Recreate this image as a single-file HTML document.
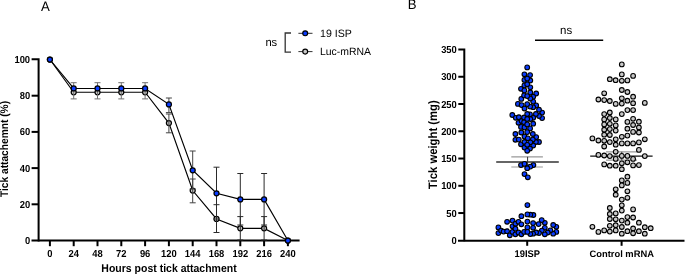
<!DOCTYPE html>
<html><head><meta charset="utf-8"><style>
html,body{margin:0;padding:0;background:#fff;}
svg{display:block;font-family:"Liberation Sans", sans-serif;}
svg{will-change:transform;}
text{text-rendering:geometricPrecision;}
</style></head><body>
<svg width="685" height="274" viewBox="0 0 685 274">
<text transform="translate(41,10.6) scale(1,1.04)" font-size="13.2">A</text>
<text transform="translate(407.7,9.15) scale(1,1.04)" font-size="13.2">B</text>
<g stroke="#000" stroke-width="2" fill="none">
<path d="M31.6,59.3 H38.6 V241.5" stroke-linejoin="miter"/>
<path d="M31.5,240.5 H299.6"/>
<path d="M31.6,204.3 H38.6"/>
<path d="M31.6,168.1 H38.6"/>
<path d="M31.6,131.9 H38.6"/>
<path d="M31.6,95.7 H38.6"/>
<path d="M49.9,240.5 V246.2"/>
<path d="M73.7,240.5 V246.2"/>
<path d="M97.5,240.5 V246.2"/>
<path d="M121.3,240.5 V246.2"/>
<path d="M145.1,240.5 V246.2"/>
<path d="M168.9,240.5 V246.2"/>
<path d="M192.7,240.5 V246.2"/>
<path d="M216.5,240.5 V246.2"/>
<path d="M240.3,240.5 V246.2"/>
<path d="M264.1,240.5 V246.2"/>
<path d="M287.9,240.5 V246.2"/>
</g>
<text transform="translate(30.1,244) scale(1,1.08)" font-size="9.4" font-weight="bold" text-anchor="end">0</text>
<text transform="translate(30.1,207.8) scale(1,1.08)" font-size="9.4" font-weight="bold" text-anchor="end">20</text>
<text transform="translate(30.1,171.6) scale(1,1.08)" font-size="9.4" font-weight="bold" text-anchor="end">40</text>
<text transform="translate(30.1,135.4) scale(1,1.08)" font-size="9.4" font-weight="bold" text-anchor="end">60</text>
<text transform="translate(30.1,99.2) scale(1,1.08)" font-size="9.4" font-weight="bold" text-anchor="end">80</text>
<text transform="translate(30.1,63) scale(1,1.08)" font-size="9.4" font-weight="bold" text-anchor="end">100</text>
<text transform="translate(49.9,257.3) scale(1,1.08)" font-size="9.4" font-weight="bold" text-anchor="middle">0</text>
<text transform="translate(73.7,257.3) scale(1,1.08)" font-size="9.4" font-weight="bold" text-anchor="middle">24</text>
<text transform="translate(97.5,257.3) scale(1,1.08)" font-size="9.4" font-weight="bold" text-anchor="middle">48</text>
<text transform="translate(121.3,257.3) scale(1,1.08)" font-size="9.4" font-weight="bold" text-anchor="middle">72</text>
<text transform="translate(145.1,257.3) scale(1,1.08)" font-size="9.4" font-weight="bold" text-anchor="middle">96</text>
<text transform="translate(168.9,257.3) scale(1,1.08)" font-size="9.4" font-weight="bold" text-anchor="middle">120</text>
<text transform="translate(192.7,257.3) scale(1,1.08)" font-size="9.4" font-weight="bold" text-anchor="middle">144</text>
<text transform="translate(216.5,257.3) scale(1,1.08)" font-size="9.4" font-weight="bold" text-anchor="middle">168</text>
<text transform="translate(240.3,257.3) scale(1,1.08)" font-size="9.4" font-weight="bold" text-anchor="middle">192</text>
<text transform="translate(264.1,257.3) scale(1,1.08)" font-size="9.4" font-weight="bold" text-anchor="middle">216</text>
<text transform="translate(287.9,257.3) scale(1,1.08)" font-size="9.4" font-weight="bold" text-anchor="middle">240</text>
<text transform="translate(169,271.9) scale(1,1.08)" font-size="10.5" font-weight="bold" text-anchor="middle">Hours post tick attachment</text>
<text transform="translate(8.3,149) rotate(-90) scale(1,1.08)" font-size="10.2" font-weight="bold" text-anchor="middle">Tick attachemnt (%)</text>
<polyline points="49.9,59.5 73.7,92.26 97.5,92.26 121.3,92.26 145.1,92.26 168.9,123.03 192.7,190.54 216.5,218.96 240.3,228.37 264.1,228.37 287.9,240.5" fill="none" stroke="#000" stroke-width="1.15"/>
<circle cx="49.9" cy="59.5" r="2.5" fill="#c8c8c8" stroke="#000" stroke-width="1.25"/>
<circle cx="73.7" cy="92.26" r="2.5" fill="#c8c8c8" stroke="#000" stroke-width="1.25"/>
<circle cx="97.5" cy="92.26" r="2.5" fill="#c8c8c8" stroke="#000" stroke-width="1.25"/>
<circle cx="121.3" cy="92.26" r="2.5" fill="#c8c8c8" stroke="#000" stroke-width="1.25"/>
<circle cx="145.1" cy="92.26" r="2.5" fill="#c8c8c8" stroke="#000" stroke-width="1.25"/>
<circle cx="168.9" cy="123.03" r="2.5" fill="#c8c8c8" stroke="#000" stroke-width="1.25"/>
<circle cx="192.7" cy="190.54" r="2.5" fill="#c8c8c8" stroke="#000" stroke-width="1.25"/>
<circle cx="216.5" cy="218.96" r="2.5" fill="#c8c8c8" stroke="#000" stroke-width="1.25"/>
<circle cx="240.3" cy="228.37" r="2.5" fill="#c8c8c8" stroke="#000" stroke-width="1.25"/>
<circle cx="264.1" cy="228.37" r="2.5" fill="#c8c8c8" stroke="#000" stroke-width="1.25"/>
<circle cx="287.9" cy="240.5" r="2.5" fill="#c8c8c8" stroke="#000" stroke-width="1.25"/>
<g stroke="#2a2a2a" stroke-width="1" fill="none">
<path stroke="#707070" d="M73.7,82.7 V98.9 M70.7,82.7 H76.7 M70.7,98.9 H76.7"/>
<path stroke="#707070" d="M97.5,82.7 V98.9 M94.5,82.7 H100.5 M94.5,98.9 H100.5"/>
<path stroke="#707070" d="M121.3,82.7 V98.9 M118.3,82.7 H124.3 M118.3,98.9 H124.3"/>
<path stroke="#707070" d="M145.1,82.7 V98.9 M142.1,82.7 H148.1 M142.1,98.9 H148.1"/>
<path stroke="#444" d="M168.9,98 V112.6 M165.9,98 H171.9 M165.9,112.6 H171.9"/>
<path stroke="#444" d="M168.9,114 V132.8 M165.9,114 H171.9 M165.9,132.8 H171.9"/>
<path stroke="#444" d="M192.7,151 V189 M189.7,151 H195.7 M189.7,189 H195.7"/>
<path stroke="#444" d="M192.7,179 V202.8 M189.7,179 H195.7 M189.7,202.8 H195.7"/>
<path stroke="#2a2a2a" d="M216.5,167.2 V219 M213.5,167.2 H219.5 M213.5,219 H219.5"/>
<path stroke="#2a2a2a" d="M216.5,204.7 V232.5 M213.5,204.7 H219.5 M213.5,232.5 H219.5"/>
<path stroke="#2a2a2a" d="M240.3,173.5 V225 M237.3,173.5 H243.3 M237.3,225 H243.3"/>
<path stroke="#2a2a2a" d="M240.3,216.6 V240 M237.3,216.6 H243.3 M237.3,240 H243.3"/>
<path stroke="#2a2a2a" d="M264.1,173.5 V225 M261.1,173.5 H267.1 M261.1,225 H267.1"/>
<path stroke="#2a2a2a" d="M264.1,216.6 V240 M261.1,216.6 H267.1 M261.1,240 H267.1"/>
</g>
<polyline points="49.9,59.5 73.7,88.46 97.5,88.46 121.3,88.46 145.1,88.46 168.9,104.39 192.7,170.27 216.5,193.26 240.3,199.41 264.1,199.41 287.9,240.5" fill="none" stroke="#000" stroke-width="1.15"/>
<circle cx="49.9" cy="59.5" r="2.5" fill="#0a3cff" stroke="#000" stroke-width="1.25"/>
<circle cx="73.7" cy="88.46" r="2.5" fill="#0a3cff" stroke="#000" stroke-width="1.25"/>
<circle cx="97.5" cy="88.46" r="2.5" fill="#0a3cff" stroke="#000" stroke-width="1.25"/>
<circle cx="121.3" cy="88.46" r="2.5" fill="#0a3cff" stroke="#000" stroke-width="1.25"/>
<circle cx="145.1" cy="88.46" r="2.5" fill="#0a3cff" stroke="#000" stroke-width="1.25"/>
<circle cx="168.9" cy="104.39" r="2.5" fill="#0a3cff" stroke="#000" stroke-width="1.25"/>
<circle cx="192.7" cy="170.27" r="2.5" fill="#0a3cff" stroke="#000" stroke-width="1.25"/>
<circle cx="216.5" cy="193.26" r="2.5" fill="#0a3cff" stroke="#000" stroke-width="1.25"/>
<circle cx="240.3" cy="199.41" r="2.5" fill="#0a3cff" stroke="#000" stroke-width="1.25"/>
<circle cx="264.1" cy="199.41" r="2.5" fill="#0a3cff" stroke="#000" stroke-width="1.25"/>
<circle cx="287.9" cy="240.5" r="2.5" fill="#0a3cff" stroke="#000" stroke-width="1.25"/>
<text transform="translate(265.4,46.1) scale(1,1.02)" font-size="11.2">ns</text>
<path d="M291,33 H285.2 V52.2 H291" fill="none" stroke="#333" stroke-width="1.3"/>
<path d="M298.4,33.3 H312.5 M298.4,51.6 H312.5" stroke="#333" stroke-width="1"/>
<circle cx="305.2" cy="33.3" r="2.45" fill="#0a3cff" stroke="#000" stroke-width="1.2"/>
<circle cx="305.2" cy="51.6" r="2.45" fill="#c8c8c8" stroke="#000" stroke-width="1.2"/>
<text transform="translate(320,37) scale(1,1.0)" font-size="10.6">19 ISP</text>
<text transform="translate(320,54.8) scale(1,1.01)" font-size="10.45">Luc-mRNA</text>
<g stroke="#000" stroke-width="2" fill="none">
<path d="M458.3,49.5 H464.3 V241.3" stroke-linejoin="miter"/>
<path d="M458,240.7 H684.5"/>
<path d="M458.3,213.04 H464.3"/>
<path d="M458.3,185.79 H464.3"/>
<path d="M458.3,158.53 H464.3"/>
<path d="M458.3,131.27 H464.3"/>
<path d="M458.3,104.01 H464.3"/>
<path d="M458.3,76.76 H464.3"/>
<path d="M527.2,240.5 V245.8"/>
<path d="M621.6,240.5 V245.8"/>
</g>
<text transform="translate(456.8,243.8) scale(1,1.08)" font-size="9.4" font-weight="bold" text-anchor="end">0</text>
<text transform="translate(456.8,216.54) scale(1,1.08)" font-size="9.4" font-weight="bold" text-anchor="end">50</text>
<text transform="translate(456.8,189.29) scale(1,1.08)" font-size="9.4" font-weight="bold" text-anchor="end">100</text>
<text transform="translate(456.8,162.03) scale(1,1.08)" font-size="9.4" font-weight="bold" text-anchor="end">150</text>
<text transform="translate(456.8,134.77) scale(1,1.08)" font-size="9.4" font-weight="bold" text-anchor="end">200</text>
<text transform="translate(456.8,107.51) scale(1,1.08)" font-size="9.4" font-weight="bold" text-anchor="end">250</text>
<text transform="translate(456.8,80.26) scale(1,1.08)" font-size="9.4" font-weight="bold" text-anchor="end">300</text>
<text transform="translate(456.8,53) scale(1,1.08)" font-size="9.4" font-weight="bold" text-anchor="end">350</text>
<text transform="translate(527.3,256.8) scale(1,1.03)" font-size="9.4" font-weight="bold" text-anchor="middle">19ISP</text>
<text transform="translate(621.7,256.8) scale(1,1.0)" font-size="9.35" font-weight="bold" text-anchor="middle">Control mRNA</text>
<text transform="translate(437.2,144.7) rotate(-90) scale(1,1.08)" font-size="11.3" font-weight="bold" text-anchor="middle">Tick weight (mg)</text>
<path d="M535,40.2 H603.2" stroke="#000" stroke-width="1.5"/>
<text transform="translate(560,34) scale(1,1.0)" font-size="11.5">ns</text>
<path d="M511.3,156.8 H542.9 M511.3,167 H542.9" stroke="#999" stroke-width="1.2"/>
<path d="M527.6,156.8 V167" stroke="#333" stroke-width="1"/>
<path d="M496.2,162 H558.8" stroke="#333" stroke-width="1.3"/>
<path d="M606,151.8 H637 M606,160.2 H637" stroke="#999" stroke-width="1.2"/>
<path d="M621.8,151.8 V160.2" stroke="#333" stroke-width="1"/>
<path d="M590.2,156.1 H652.6" stroke="#111" stroke-width="1.3"/>
<circle cx="556.3" cy="226.8" r="2.35" fill="#0a3cff" stroke="#000" stroke-width="1.1"/>
<circle cx="556.3" cy="231.9" r="2.35" fill="#0a3cff" stroke="#000" stroke-width="1.1"/>
<circle cx="498.4" cy="227.4" r="2.35" fill="#0a3cff" stroke="#000" stroke-width="1.1"/>
<circle cx="498.4" cy="233.1" r="2.35" fill="#0a3cff" stroke="#000" stroke-width="1.1"/>
<circle cx="501.1" cy="230.6" r="2.35" fill="#0a3cff" stroke="#000" stroke-width="1.1"/>
<circle cx="553.2" cy="225" r="2.35" fill="#0a3cff" stroke="#000" stroke-width="1.1"/>
<circle cx="553.2" cy="233.7" r="2.35" fill="#0a3cff" stroke="#000" stroke-width="1.1"/>
<circle cx="503.6" cy="231.6" r="2.35" fill="#0a3cff" stroke="#000" stroke-width="1.1"/>
<circle cx="550.4" cy="230.3" r="2.35" fill="#0a3cff" stroke="#000" stroke-width="1.1"/>
<circle cx="547.7" cy="232.5" r="2.35" fill="#0a3cff" stroke="#000" stroke-width="1.1"/>
<circle cx="507.1" cy="221.8" r="2.35" fill="#0a3cff" stroke="#000" stroke-width="1.1"/>
<circle cx="507.1" cy="231.2" r="2.35" fill="#0a3cff" stroke="#000" stroke-width="1.1"/>
<circle cx="544.8" cy="222.8" r="2.35" fill="#0a3cff" stroke="#000" stroke-width="1.1"/>
<circle cx="544.8" cy="227.8" r="2.35" fill="#0a3cff" stroke="#000" stroke-width="1.1"/>
<circle cx="544.8" cy="234.3" r="2.35" fill="#0a3cff" stroke="#000" stroke-width="1.1"/>
<circle cx="509.8" cy="235.3" r="2.35" fill="#0a3cff" stroke="#000" stroke-width="1.1"/>
<circle cx="512.3" cy="115" r="2.35" fill="#0a3cff" stroke="#000" stroke-width="1.1"/>
<circle cx="542.1" cy="112.6" r="2.35" fill="#0a3cff" stroke="#000" stroke-width="1.1"/>
<circle cx="542.1" cy="118.1" r="2.35" fill="#0a3cff" stroke="#000" stroke-width="1.1"/>
<circle cx="512.5" cy="220.6" r="2.35" fill="#0a3cff" stroke="#000" stroke-width="1.1"/>
<circle cx="512.5" cy="226.3" r="2.35" fill="#0a3cff" stroke="#000" stroke-width="1.1"/>
<circle cx="512.5" cy="231.9" r="2.35" fill="#0a3cff" stroke="#000" stroke-width="1.1"/>
<circle cx="541.8" cy="230.6" r="2.35" fill="#0a3cff" stroke="#000" stroke-width="1.1"/>
<circle cx="541.7" cy="220.1" r="2.35" fill="#0a3cff" stroke="#000" stroke-width="1.1"/>
<circle cx="515.4" cy="134" r="2.35" fill="#0a3cff" stroke="#000" stroke-width="1.1"/>
<circle cx="515.4" cy="139.8" r="2.35" fill="#0a3cff" stroke="#000" stroke-width="1.1"/>
<circle cx="515.4" cy="223.7" r="2.35" fill="#0a3cff" stroke="#000" stroke-width="1.1"/>
<circle cx="515.4" cy="228.7" r="2.35" fill="#0a3cff" stroke="#000" stroke-width="1.1"/>
<circle cx="515.4" cy="234.3" r="2.35" fill="#0a3cff" stroke="#000" stroke-width="1.1"/>
<circle cx="539" cy="109.7" r="2.35" fill="#0a3cff" stroke="#000" stroke-width="1.1"/>
<circle cx="539" cy="116" r="2.35" fill="#0a3cff" stroke="#000" stroke-width="1.1"/>
<circle cx="539" cy="142" r="2.35" fill="#0a3cff" stroke="#000" stroke-width="1.1"/>
<circle cx="539" cy="233.1" r="2.35" fill="#0a3cff" stroke="#000" stroke-width="1.1"/>
<circle cx="515.8" cy="117.8" r="2.35" fill="#0a3cff" stroke="#000" stroke-width="1.1"/>
<circle cx="538.6" cy="224.1" r="2.35" fill="#0a3cff" stroke="#000" stroke-width="1.1"/>
<circle cx="517.9" cy="103.9" r="2.35" fill="#0a3cff" stroke="#000" stroke-width="1.1"/>
<circle cx="536.2" cy="93.5" r="2.35" fill="#0a3cff" stroke="#000" stroke-width="1.1"/>
<circle cx="536.2" cy="105.4" r="2.35" fill="#0a3cff" stroke="#000" stroke-width="1.1"/>
<circle cx="536.2" cy="137.1" r="2.35" fill="#0a3cff" stroke="#000" stroke-width="1.1"/>
<circle cx="536.1" cy="232.5" r="2.35" fill="#0a3cff" stroke="#000" stroke-width="1.1"/>
<circle cx="518.5" cy="122.8" r="2.35" fill="#0a3cff" stroke="#000" stroke-width="1.1"/>
<circle cx="518.5" cy="221.8" r="2.35" fill="#0a3cff" stroke="#000" stroke-width="1.1"/>
<circle cx="518.5" cy="232.5" r="2.35" fill="#0a3cff" stroke="#000" stroke-width="1.1"/>
<circle cx="535.9" cy="114" r="2.35" fill="#0a3cff" stroke="#000" stroke-width="1.1"/>
<circle cx="535.9" cy="142" r="2.35" fill="#0a3cff" stroke="#000" stroke-width="1.1"/>
<circle cx="518.8" cy="139.6" r="2.35" fill="#0a3cff" stroke="#000" stroke-width="1.1"/>
<circle cx="518.9" cy="117.2" r="2.35" fill="#0a3cff" stroke="#000" stroke-width="1.1"/>
<circle cx="521" cy="88.8" r="2.35" fill="#0a3cff" stroke="#000" stroke-width="1.1"/>
<circle cx="521" cy="126.9" r="2.35" fill="#0a3cff" stroke="#000" stroke-width="1.1"/>
<circle cx="521" cy="144.3" r="2.35" fill="#0a3cff" stroke="#000" stroke-width="1.1"/>
<circle cx="521" cy="165.1" r="2.35" fill="#0a3cff" stroke="#000" stroke-width="1.1"/>
<circle cx="533.4" cy="165.1" r="2.35" fill="#0a3cff" stroke="#000" stroke-width="1.1"/>
<circle cx="533.4" cy="215" r="2.35" fill="#0a3cff" stroke="#000" stroke-width="1.1"/>
<circle cx="521.3" cy="98.9" r="2.35" fill="#0a3cff" stroke="#000" stroke-width="1.1"/>
<circle cx="521.3" cy="132.5" r="2.35" fill="#0a3cff" stroke="#000" stroke-width="1.1"/>
<circle cx="533.2" cy="96.7" r="2.35" fill="#0a3cff" stroke="#000" stroke-width="1.1"/>
<circle cx="533.2" cy="101.6" r="2.35" fill="#0a3cff" stroke="#000" stroke-width="1.1"/>
<circle cx="533.2" cy="107.2" r="2.35" fill="#0a3cff" stroke="#000" stroke-width="1.1"/>
<circle cx="533.2" cy="117.8" r="2.35" fill="#0a3cff" stroke="#000" stroke-width="1.1"/>
<circle cx="533.2" cy="123.7" r="2.35" fill="#0a3cff" stroke="#000" stroke-width="1.1"/>
<circle cx="533.2" cy="145.5" r="2.35" fill="#0a3cff" stroke="#000" stroke-width="1.1"/>
<circle cx="521.4" cy="216.2" r="2.35" fill="#0a3cff" stroke="#000" stroke-width="1.1"/>
<circle cx="521.4" cy="224.3" r="2.35" fill="#0a3cff" stroke="#000" stroke-width="1.1"/>
<circle cx="521.4" cy="234.3" r="2.35" fill="#0a3cff" stroke="#000" stroke-width="1.1"/>
<circle cx="533.1" cy="223.1" r="2.35" fill="#0a3cff" stroke="#000" stroke-width="1.1"/>
<circle cx="533.1" cy="227.8" r="2.35" fill="#0a3cff" stroke="#000" stroke-width="1.1"/>
<circle cx="533.1" cy="233.7" r="2.35" fill="#0a3cff" stroke="#000" stroke-width="1.1"/>
<circle cx="521.6" cy="105.1" r="2.35" fill="#0a3cff" stroke="#000" stroke-width="1.1"/>
<circle cx="521.6" cy="121" r="2.35" fill="#0a3cff" stroke="#000" stroke-width="1.1"/>
<circle cx="532.8" cy="134" r="2.35" fill="#0a3cff" stroke="#000" stroke-width="1.1"/>
<circle cx="532.8" cy="139.6" r="2.35" fill="#0a3cff" stroke="#000" stroke-width="1.1"/>
<circle cx="524.1" cy="95.4" r="2.35" fill="#0a3cff" stroke="#000" stroke-width="1.1"/>
<circle cx="524.1" cy="117.5" r="2.35" fill="#0a3cff" stroke="#000" stroke-width="1.1"/>
<circle cx="524.1" cy="122.2" r="2.35" fill="#0a3cff" stroke="#000" stroke-width="1.1"/>
<circle cx="524.1" cy="231.9" r="2.35" fill="#0a3cff" stroke="#000" stroke-width="1.1"/>
<circle cx="530.3" cy="80.5" r="2.35" fill="#0a3cff" stroke="#000" stroke-width="1.1"/>
<circle cx="530.3" cy="87.3" r="2.35" fill="#0a3cff" stroke="#000" stroke-width="1.1"/>
<circle cx="530.3" cy="92.5" r="2.35" fill="#0a3cff" stroke="#000" stroke-width="1.1"/>
<circle cx="530.3" cy="98.5" r="2.35" fill="#0a3cff" stroke="#000" stroke-width="1.1"/>
<circle cx="530.3" cy="119" r="2.35" fill="#0a3cff" stroke="#000" stroke-width="1.1"/>
<circle cx="530.3" cy="142.3" r="2.35" fill="#0a3cff" stroke="#000" stroke-width="1.1"/>
<circle cx="530.3" cy="166.6" r="2.35" fill="#0a3cff" stroke="#000" stroke-width="1.1"/>
<circle cx="530.3" cy="214.7" r="2.35" fill="#0a3cff" stroke="#000" stroke-width="1.1"/>
<circle cx="530.3" cy="234.1" r="2.35" fill="#0a3cff" stroke="#000" stroke-width="1.1"/>
<circle cx="524.4" cy="74.3" r="2.35" fill="#0a3cff" stroke="#000" stroke-width="1.1"/>
<circle cx="524.4" cy="79.9" r="2.35" fill="#0a3cff" stroke="#000" stroke-width="1.1"/>
<circle cx="524.4" cy="85.4" r="2.35" fill="#0a3cff" stroke="#000" stroke-width="1.1"/>
<circle cx="524.4" cy="90.4" r="2.35" fill="#0a3cff" stroke="#000" stroke-width="1.1"/>
<circle cx="530.1" cy="75.1" r="2.35" fill="#0a3cff" stroke="#000" stroke-width="1.1"/>
<circle cx="530.1" cy="106.6" r="2.35" fill="#0a3cff" stroke="#000" stroke-width="1.1"/>
<circle cx="530.1" cy="128.4" r="2.35" fill="#0a3cff" stroke="#000" stroke-width="1.1"/>
<circle cx="524.5" cy="108.5" r="2.35" fill="#0a3cff" stroke="#000" stroke-width="1.1"/>
<circle cx="524.5" cy="127.4" r="2.35" fill="#0a3cff" stroke="#000" stroke-width="1.1"/>
<circle cx="524.5" cy="136.5" r="2.35" fill="#0a3cff" stroke="#000" stroke-width="1.1"/>
<circle cx="524.5" cy="142" r="2.35" fill="#0a3cff" stroke="#000" stroke-width="1.1"/>
<circle cx="524.5" cy="147.6" r="2.35" fill="#0a3cff" stroke="#000" stroke-width="1.1"/>
<circle cx="524.5" cy="163.9" r="2.35" fill="#0a3cff" stroke="#000" stroke-width="1.1"/>
<circle cx="524.5" cy="174.1" r="2.35" fill="#0a3cff" stroke="#000" stroke-width="1.1"/>
<circle cx="530" cy="114.3" r="2.35" fill="#0a3cff" stroke="#000" stroke-width="1.1"/>
<circle cx="530" cy="148.5" r="2.35" fill="#0a3cff" stroke="#000" stroke-width="1.1"/>
<circle cx="527.8" cy="138.3" r="2.35" fill="#0a3cff" stroke="#000" stroke-width="1.1"/>
<circle cx="527.8" cy="177.3" r="2.35" fill="#0a3cff" stroke="#000" stroke-width="1.1"/>
<circle cx="527.4" cy="205.1" r="2.35" fill="#0a3cff" stroke="#000" stroke-width="1.1"/>
<circle cx="527.4" cy="214.4" r="2.35" fill="#0a3cff" stroke="#000" stroke-width="1.1"/>
<circle cx="527.4" cy="221.6" r="2.35" fill="#0a3cff" stroke="#000" stroke-width="1.1"/>
<circle cx="527.4" cy="227.4" r="2.35" fill="#0a3cff" stroke="#000" stroke-width="1.1"/>
<circle cx="527.4" cy="231.9" r="2.35" fill="#0a3cff" stroke="#000" stroke-width="1.1"/>
<circle cx="527.2" cy="67.4" r="2.35" fill="#0a3cff" stroke="#000" stroke-width="1.1"/>
<circle cx="527.2" cy="78.6" r="2.35" fill="#0a3cff" stroke="#000" stroke-width="1.1"/>
<circle cx="527.2" cy="84.2" r="2.35" fill="#0a3cff" stroke="#000" stroke-width="1.1"/>
<circle cx="527.2" cy="96.1" r="2.35" fill="#0a3cff" stroke="#000" stroke-width="1.1"/>
<circle cx="527.2" cy="104.1" r="2.35" fill="#0a3cff" stroke="#000" stroke-width="1.1"/>
<circle cx="527.2" cy="114" r="2.35" fill="#0a3cff" stroke="#000" stroke-width="1.1"/>
<circle cx="527.2" cy="119" r="2.35" fill="#0a3cff" stroke="#000" stroke-width="1.1"/>
<circle cx="527.2" cy="124.4" r="2.35" fill="#0a3cff" stroke="#000" stroke-width="1.1"/>
<circle cx="527.2" cy="132.1" r="2.35" fill="#0a3cff" stroke="#000" stroke-width="1.1"/>
<circle cx="527.2" cy="144.8" r="2.35" fill="#0a3cff" stroke="#000" stroke-width="1.1"/>
<circle cx="527.2" cy="150.8" r="2.35" fill="#0a3cff" stroke="#000" stroke-width="1.1"/>
<circle cx="527.2" cy="168.2" r="2.35" fill="#0a3cff" stroke="#000" stroke-width="1.1"/>
<circle cx="592.4" cy="138.4" r="2.35" fill="#c8c8c8" stroke="#000" stroke-width="1.1"/>
<circle cx="592.4" cy="226.8" r="2.35" fill="#c8c8c8" stroke="#000" stroke-width="1.1"/>
<circle cx="650.7" cy="228.2" r="2.35" fill="#c8c8c8" stroke="#000" stroke-width="1.1"/>
<circle cx="598.4" cy="99.5" r="2.35" fill="#c8c8c8" stroke="#000" stroke-width="1.1"/>
<circle cx="598.4" cy="140.5" r="2.35" fill="#c8c8c8" stroke="#000" stroke-width="1.1"/>
<circle cx="598.4" cy="154.9" r="2.35" fill="#c8c8c8" stroke="#000" stroke-width="1.1"/>
<circle cx="598.4" cy="231.9" r="2.35" fill="#c8c8c8" stroke="#000" stroke-width="1.1"/>
<circle cx="644.8" cy="102.9" r="2.35" fill="#c8c8c8" stroke="#000" stroke-width="1.1"/>
<circle cx="644.8" cy="139.3" r="2.35" fill="#c8c8c8" stroke="#000" stroke-width="1.1"/>
<circle cx="644.8" cy="156.1" r="2.35" fill="#c8c8c8" stroke="#000" stroke-width="1.1"/>
<circle cx="644.8" cy="227.2" r="2.35" fill="#c8c8c8" stroke="#000" stroke-width="1.1"/>
<circle cx="644.8" cy="233.7" r="2.35" fill="#c8c8c8" stroke="#000" stroke-width="1.1"/>
<circle cx="604.2" cy="93.3" r="2.35" fill="#c8c8c8" stroke="#000" stroke-width="1.1"/>
<circle cx="604.2" cy="100.1" r="2.35" fill="#c8c8c8" stroke="#000" stroke-width="1.1"/>
<circle cx="604.2" cy="114.1" r="2.35" fill="#c8c8c8" stroke="#000" stroke-width="1.1"/>
<circle cx="604.2" cy="119.4" r="2.35" fill="#c8c8c8" stroke="#000" stroke-width="1.1"/>
<circle cx="604.2" cy="124.4" r="2.35" fill="#c8c8c8" stroke="#000" stroke-width="1.1"/>
<circle cx="604.2" cy="129.7" r="2.35" fill="#c8c8c8" stroke="#000" stroke-width="1.1"/>
<circle cx="604.2" cy="134.7" r="2.35" fill="#c8c8c8" stroke="#000" stroke-width="1.1"/>
<circle cx="604.2" cy="140.8" r="2.35" fill="#c8c8c8" stroke="#000" stroke-width="1.1"/>
<circle cx="604.2" cy="146.5" r="2.35" fill="#c8c8c8" stroke="#000" stroke-width="1.1"/>
<circle cx="604.2" cy="155.5" r="2.35" fill="#c8c8c8" stroke="#000" stroke-width="1.1"/>
<circle cx="604.2" cy="164.4" r="2.35" fill="#c8c8c8" stroke="#000" stroke-width="1.1"/>
<circle cx="604.2" cy="230.4" r="2.35" fill="#c8c8c8" stroke="#000" stroke-width="1.1"/>
<circle cx="638.9" cy="121.7" r="2.35" fill="#c8c8c8" stroke="#000" stroke-width="1.1"/>
<circle cx="638.9" cy="127.5" r="2.35" fill="#c8c8c8" stroke="#000" stroke-width="1.1"/>
<circle cx="638.9" cy="132.5" r="2.35" fill="#c8c8c8" stroke="#000" stroke-width="1.1"/>
<circle cx="638.9" cy="142.4" r="2.35" fill="#c8c8c8" stroke="#000" stroke-width="1.1"/>
<circle cx="638.9" cy="149.9" r="2.35" fill="#c8c8c8" stroke="#000" stroke-width="1.1"/>
<circle cx="638.9" cy="165.1" r="2.35" fill="#c8c8c8" stroke="#000" stroke-width="1.1"/>
<circle cx="638.9" cy="222.7" r="2.35" fill="#c8c8c8" stroke="#000" stroke-width="1.1"/>
<circle cx="638.9" cy="231.2" r="2.35" fill="#c8c8c8" stroke="#000" stroke-width="1.1"/>
<circle cx="609.8" cy="79.2" r="2.35" fill="#c8c8c8" stroke="#000" stroke-width="1.1"/>
<circle cx="609.8" cy="101" r="2.35" fill="#c8c8c8" stroke="#000" stroke-width="1.1"/>
<circle cx="609.8" cy="112.5" r="2.35" fill="#c8c8c8" stroke="#000" stroke-width="1.1"/>
<circle cx="609.8" cy="118" r="2.35" fill="#c8c8c8" stroke="#000" stroke-width="1.1"/>
<circle cx="609.8" cy="123.8" r="2.35" fill="#c8c8c8" stroke="#000" stroke-width="1.1"/>
<circle cx="609.8" cy="129.1" r="2.35" fill="#c8c8c8" stroke="#000" stroke-width="1.1"/>
<circle cx="609.8" cy="135" r="2.35" fill="#c8c8c8" stroke="#000" stroke-width="1.1"/>
<circle cx="609.8" cy="142.1" r="2.35" fill="#c8c8c8" stroke="#000" stroke-width="1.1"/>
<circle cx="609.8" cy="156.1" r="2.35" fill="#c8c8c8" stroke="#000" stroke-width="1.1"/>
<circle cx="609.8" cy="165.7" r="2.35" fill="#c8c8c8" stroke="#000" stroke-width="1.1"/>
<circle cx="609.8" cy="208" r="2.35" fill="#c8c8c8" stroke="#000" stroke-width="1.1"/>
<circle cx="609.8" cy="214" r="2.35" fill="#c8c8c8" stroke="#000" stroke-width="1.1"/>
<circle cx="609.8" cy="219" r="2.35" fill="#c8c8c8" stroke="#000" stroke-width="1.1"/>
<circle cx="609.8" cy="225.8" r="2.35" fill="#c8c8c8" stroke="#000" stroke-width="1.1"/>
<circle cx="609.8" cy="231.6" r="2.35" fill="#c8c8c8" stroke="#000" stroke-width="1.1"/>
<circle cx="633.1" cy="75.9" r="2.35" fill="#c8c8c8" stroke="#000" stroke-width="1.1"/>
<circle cx="633.1" cy="96.7" r="2.35" fill="#c8c8c8" stroke="#000" stroke-width="1.1"/>
<circle cx="633.1" cy="103.2" r="2.35" fill="#c8c8c8" stroke="#000" stroke-width="1.1"/>
<circle cx="633.1" cy="110.1" r="2.35" fill="#c8c8c8" stroke="#000" stroke-width="1.1"/>
<circle cx="633.1" cy="118.8" r="2.35" fill="#c8c8c8" stroke="#000" stroke-width="1.1"/>
<circle cx="633.1" cy="125" r="2.35" fill="#c8c8c8" stroke="#000" stroke-width="1.1"/>
<circle cx="633.1" cy="131.9" r="2.35" fill="#c8c8c8" stroke="#000" stroke-width="1.1"/>
<circle cx="633.1" cy="143.4" r="2.35" fill="#c8c8c8" stroke="#000" stroke-width="1.1"/>
<circle cx="633.1" cy="158.9" r="2.35" fill="#c8c8c8" stroke="#000" stroke-width="1.1"/>
<circle cx="633.1" cy="165.4" r="2.35" fill="#c8c8c8" stroke="#000" stroke-width="1.1"/>
<circle cx="633.1" cy="209.4" r="2.35" fill="#c8c8c8" stroke="#000" stroke-width="1.1"/>
<circle cx="633.1" cy="217.5" r="2.35" fill="#c8c8c8" stroke="#000" stroke-width="1.1"/>
<circle cx="633.1" cy="228.5" r="2.35" fill="#c8c8c8" stroke="#000" stroke-width="1.1"/>
<circle cx="633.1" cy="233.3" r="2.35" fill="#c8c8c8" stroke="#000" stroke-width="1.1"/>
<circle cx="615.6" cy="80.2" r="2.35" fill="#c8c8c8" stroke="#000" stroke-width="1.1"/>
<circle cx="615.7" cy="103.9" r="2.35" fill="#c8c8c8" stroke="#000" stroke-width="1.1"/>
<circle cx="615.7" cy="119.4" r="2.35" fill="#c8c8c8" stroke="#000" stroke-width="1.1"/>
<circle cx="615.7" cy="125.4" r="2.35" fill="#c8c8c8" stroke="#000" stroke-width="1.1"/>
<circle cx="615.7" cy="130.6" r="2.35" fill="#c8c8c8" stroke="#000" stroke-width="1.1"/>
<circle cx="615.7" cy="139.3" r="2.35" fill="#c8c8c8" stroke="#000" stroke-width="1.1"/>
<circle cx="615.7" cy="144.7" r="2.35" fill="#c8c8c8" stroke="#000" stroke-width="1.1"/>
<circle cx="615.7" cy="151.8" r="2.35" fill="#c8c8c8" stroke="#000" stroke-width="1.1"/>
<circle cx="615.7" cy="158.9" r="2.35" fill="#c8c8c8" stroke="#000" stroke-width="1.1"/>
<circle cx="615.7" cy="165.7" r="2.35" fill="#c8c8c8" stroke="#000" stroke-width="1.1"/>
<circle cx="615.7" cy="189.3" r="2.35" fill="#c8c8c8" stroke="#000" stroke-width="1.1"/>
<circle cx="615.7" cy="194.7" r="2.35" fill="#c8c8c8" stroke="#000" stroke-width="1.1"/>
<circle cx="615.7" cy="213.4" r="2.35" fill="#c8c8c8" stroke="#000" stroke-width="1.1"/>
<circle cx="615.7" cy="219.3" r="2.35" fill="#c8c8c8" stroke="#000" stroke-width="1.1"/>
<circle cx="615.7" cy="225.2" r="2.35" fill="#c8c8c8" stroke="#000" stroke-width="1.1"/>
<circle cx="615.7" cy="230.4" r="2.35" fill="#c8c8c8" stroke="#000" stroke-width="1.1"/>
<circle cx="627.4" cy="80.4" r="2.35" fill="#c8c8c8" stroke="#000" stroke-width="1.1"/>
<circle cx="627.4" cy="92" r="2.35" fill="#c8c8c8" stroke="#000" stroke-width="1.1"/>
<circle cx="627.4" cy="100.7" r="2.35" fill="#c8c8c8" stroke="#000" stroke-width="1.1"/>
<circle cx="627.4" cy="110.1" r="2.35" fill="#c8c8c8" stroke="#000" stroke-width="1.1"/>
<circle cx="627.4" cy="121.9" r="2.35" fill="#c8c8c8" stroke="#000" stroke-width="1.1"/>
<circle cx="627.4" cy="128.7" r="2.35" fill="#c8c8c8" stroke="#000" stroke-width="1.1"/>
<circle cx="627.4" cy="135.6" r="2.35" fill="#c8c8c8" stroke="#000" stroke-width="1.1"/>
<circle cx="627.4" cy="143.4" r="2.35" fill="#c8c8c8" stroke="#000" stroke-width="1.1"/>
<circle cx="627.4" cy="155.9" r="2.35" fill="#c8c8c8" stroke="#000" stroke-width="1.1"/>
<circle cx="627.4" cy="162.3" r="2.35" fill="#c8c8c8" stroke="#000" stroke-width="1.1"/>
<circle cx="627.4" cy="176.7" r="2.35" fill="#c8c8c8" stroke="#000" stroke-width="1.1"/>
<circle cx="627.4" cy="182.9" r="2.35" fill="#c8c8c8" stroke="#000" stroke-width="1.1"/>
<circle cx="627.4" cy="191.3" r="2.35" fill="#c8c8c8" stroke="#000" stroke-width="1.1"/>
<circle cx="627.4" cy="197.8" r="2.35" fill="#c8c8c8" stroke="#000" stroke-width="1.1"/>
<circle cx="627.4" cy="217.1" r="2.35" fill="#c8c8c8" stroke="#000" stroke-width="1.1"/>
<circle cx="627.4" cy="222.7" r="2.35" fill="#c8c8c8" stroke="#000" stroke-width="1.1"/>
<circle cx="627.4" cy="231.2" r="2.35" fill="#c8c8c8" stroke="#000" stroke-width="1.1"/>
<circle cx="621.8" cy="64.4" r="2.35" fill="#c8c8c8" stroke="#000" stroke-width="1.1"/>
<circle cx="621.8" cy="74.4" r="2.35" fill="#c8c8c8" stroke="#000" stroke-width="1.1"/>
<circle cx="621.8" cy="80.8" r="2.35" fill="#c8c8c8" stroke="#000" stroke-width="1.1"/>
<circle cx="621.8" cy="90" r="2.35" fill="#c8c8c8" stroke="#000" stroke-width="1.1"/>
<circle cx="621.8" cy="98.3" r="2.35" fill="#c8c8c8" stroke="#000" stroke-width="1.1"/>
<circle cx="621.8" cy="103.6" r="2.35" fill="#c8c8c8" stroke="#000" stroke-width="1.1"/>
<circle cx="621.8" cy="114.1" r="2.35" fill="#c8c8c8" stroke="#000" stroke-width="1.1"/>
<circle cx="621.8" cy="136.8" r="2.35" fill="#c8c8c8" stroke="#000" stroke-width="1.1"/>
<circle cx="621.8" cy="143.4" r="2.35" fill="#c8c8c8" stroke="#000" stroke-width="1.1"/>
<circle cx="621.8" cy="155.9" r="2.35" fill="#c8c8c8" stroke="#000" stroke-width="1.1"/>
<circle cx="621.8" cy="163.3" r="2.35" fill="#c8c8c8" stroke="#000" stroke-width="1.1"/>
<circle cx="621.8" cy="169.2" r="2.35" fill="#c8c8c8" stroke="#000" stroke-width="1.1"/>
<circle cx="621.8" cy="180.4" r="2.35" fill="#c8c8c8" stroke="#000" stroke-width="1.1"/>
<circle cx="621.8" cy="185.4" r="2.35" fill="#c8c8c8" stroke="#000" stroke-width="1.1"/>
<circle cx="621.8" cy="199.6" r="2.35" fill="#c8c8c8" stroke="#000" stroke-width="1.1"/>
<circle cx="621.8" cy="205.3" r="2.35" fill="#c8c8c8" stroke="#000" stroke-width="1.1"/>
<circle cx="621.8" cy="210.6" r="2.35" fill="#c8c8c8" stroke="#000" stroke-width="1.1"/>
<circle cx="621.8" cy="220.6" r="2.35" fill="#c8c8c8" stroke="#000" stroke-width="1.1"/>
<circle cx="621.8" cy="227" r="2.35" fill="#c8c8c8" stroke="#000" stroke-width="1.1"/>
<circle cx="621.8" cy="233.7" r="2.35" fill="#c8c8c8" stroke="#000" stroke-width="1.1"/>
</svg>
</body></html>
